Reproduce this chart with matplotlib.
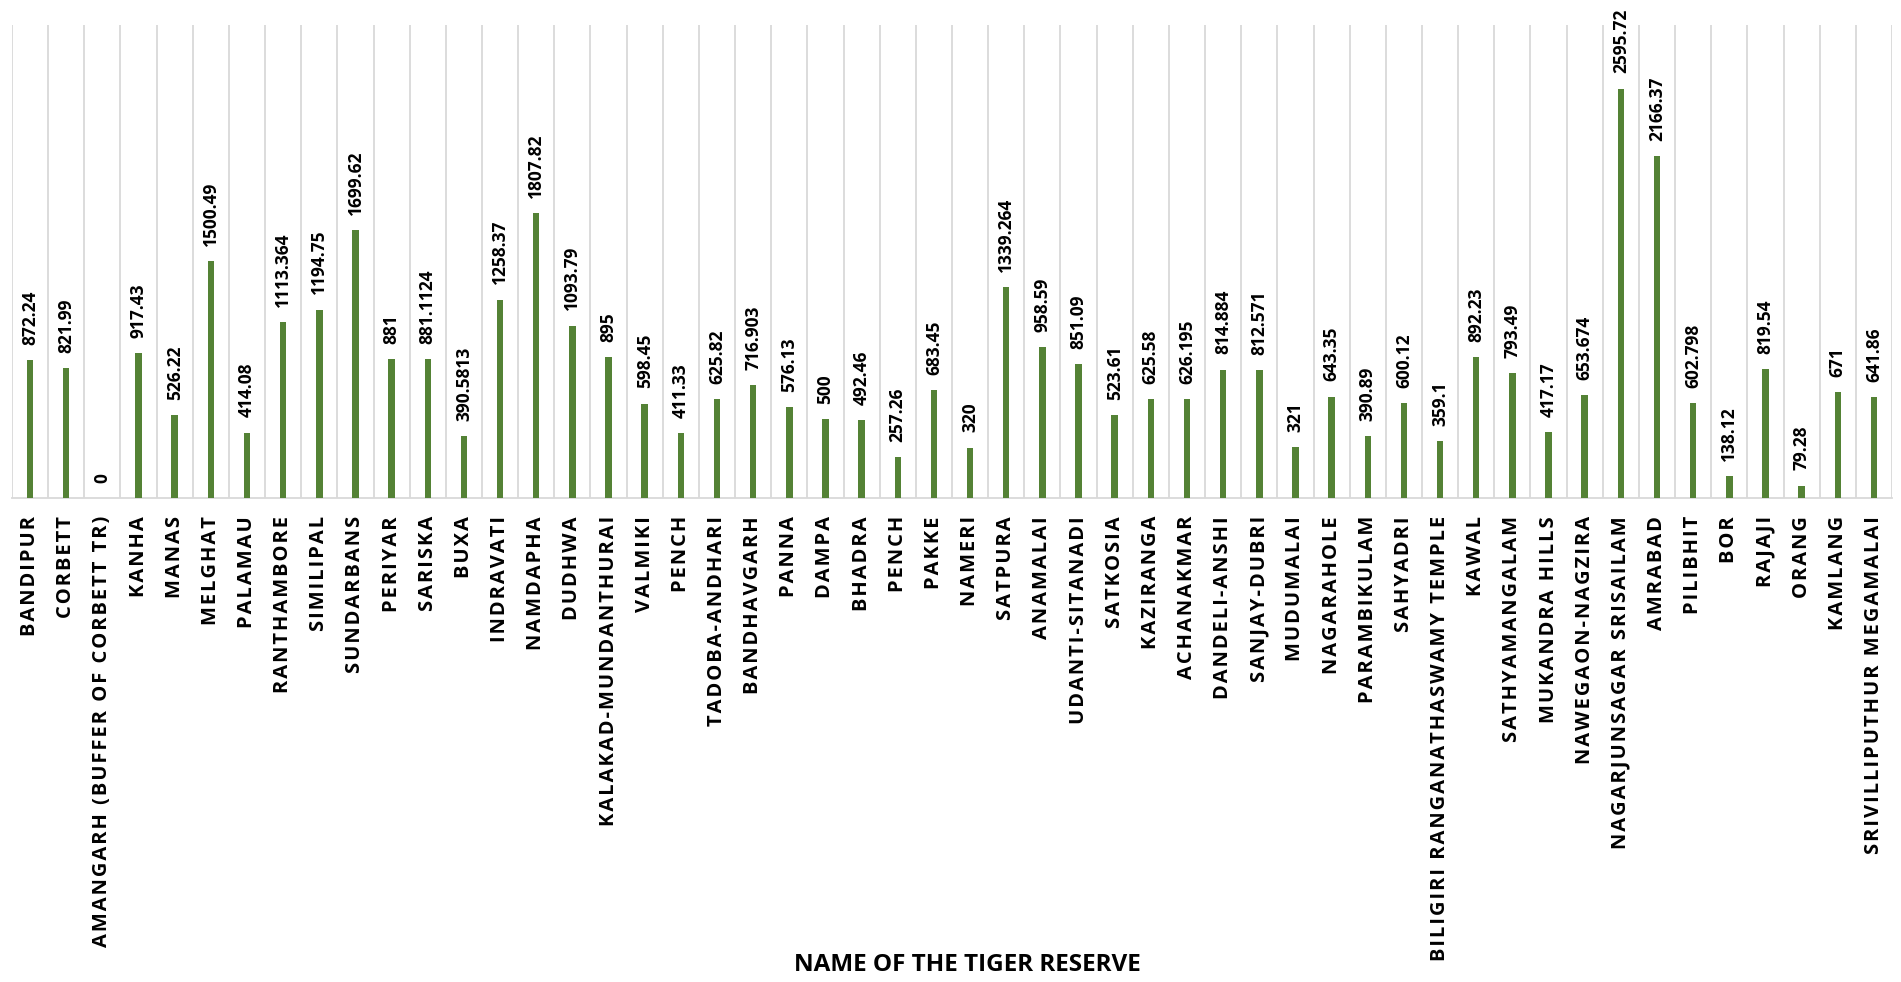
import numpy as np
import matplotlib
matplotlib.use('Agg')
import matplotlib.pyplot as plt

# Площадь тигровых заповедников (кв. км)
reserves = ['BANDIPUR', 'CORBETT', 'AMANGARH (BUFFER OF CORBETT TR)', 'KANHA', 'MANAS',
            'MELGHAT', 'PALAMAU', 'RANTHAMBORE', 'SIMILIPAL', 'SUNDARBANS', 'PERIYAR',
            'SARISKA', 'BUXA', 'INDRAVATI', 'NAMDAPHA', 'DUDHWA', 'KALAKAD-MUNDANTHURAI',
            'VALMIKI', 'PENCH', 'TADOBA-ANDHARI', 'BANDHAVGARH', 'PANNA', 'DAMPA', 'BHADRA',
            'PENCH', 'PAKKE', 'NAMERI', 'SATPURA', 'ANAMALAI', 'UDANTI-SITANADI', 'SATKOSIA',
            'KAZIRANGA', 'ACHANAKMAR', 'DANDELI-ANSHI', 'SANJAY-DUBRI', 'MUDUMALAI',
            'NAGARAHOLE', 'PARAMBIKULAM', 'SAHYADRI', 'BILIGIRI RANGANATHASWAMY TEMPLE',
            'KAWAL', 'SATHYAMANGALAM', 'MUKANDRA HILLS', 'NAWEGAON-NAGZIRA',
            'NAGARJUNSAGAR SRISAILAM', 'AMRABAD', 'PILIBHIT', 'BOR', 'RAJAJI', 'ORANG',
            'KAMLANG', 'SRIVILLIPUTHUR MEGAMALAI']
areas = [872.24, 821.99, 0, 917.43, 526.22, 1500.49, 414.08, 1113.364, 1194.75, 1699.62,
         881, 881.1124, 390.5813, 1258.37, 1807.82, 1093.79, 895, 598.45, 411.33, 625.82,
         716.903, 576.13, 500, 492.46, 257.26, 683.45, 320, 1339.264, 958.59, 851.09,
         523.61, 625.58, 626.195, 814.884, 812.571, 321, 643.35, 390.89, 600.12, 359.1,
         892.23, 793.49, 417.17, 653.674, 2595.72, 2166.37, 602.798, 138.12, 819.54,
         79.28, 671, 641.86]
value_labels = ['872.24', '821.99', '0', '917.43', '526.22', '1500.49', '414.08', '1113.364',
                '1194.75', '1699.62', '881', '881.1124', '390.5813', '1258.37', '1807.82',
                '1093.79', '895', '598.45', '411.33', '625.82', '716.903', '576.13', '500',
                '492.46', '257.26', '683.45', '320', '1339.264', '958.59', '851.09', '523.61',
                '625.58', '626.195', '814.884', '812.571', '321', '643.35', '390.89', '600.12',
                '359.1', '892.23', '793.49', '417.17', '653.674', '2595.72', '2166.37',
                '602.798', '138.12', '819.54', '79.28', '671', '641.86']

x = np.arange(len(reserves))

fig = plt.figure(figsize=(19.01, 9.82), dpi=100)
ax = fig.add_axes([12 / 1901, (982 - 498) / 982, 1880 / 1901, 473 / 982])

ax.bar(x, areas, width=0.18, color='#548235', zorder=3)

# Подписи значений над столбцами
for xi, v, s in zip(x, areas, value_labels):
    ax.annotate(s, (xi, v), xytext=(0, 11), textcoords='offset points',
                rotation=90, ha='center', va='bottom', fontsize=12.5,
                fontweight='bold', family=['Open Sans', 'DejaVu Sans'], color='#000000')

ax.set_xlim(-0.5, len(reserves) - 0.5)
ax.set_ylim(0, 3000)

# Разрежённые подписи категорий
spaced = ['\u200a'.join(name) for name in reserves]
ax.set_xticks(x)
ax.set_xticklabels(spaced, rotation=90, fontsize=14.5, fontweight='bold',
                   family=['Open Sans', 'DejaVu Sans'], color='#000000')
ax.tick_params(axis='x', length=0, pad=13)
ax.set_yticks([])

ax.set_xticks(np.arange(-0.5, len(reserves), 1), minor=True)
ax.tick_params(axis='x', which='minor', length=0)
ax.grid(True, which='minor', axis='x', color='#d9d9d9', linewidth=1.3, zorder=0)

for side in ['top', 'right', 'left']:
    ax.spines[side].set_visible(False)
ax.spines['bottom'].set_color('#d9d9d9')
ax.spines['bottom'].set_linewidth(1.3)

fig.text(967 / 1901, 1 - 965 / 982, 'NAME OF THE TIGER RESERVE', ha='center', va='center',
         fontsize=17.5, fontweight='bold', family=['Open Sans', 'DejaVu Sans'])

plt.savefig('out.png', dpi=100)
